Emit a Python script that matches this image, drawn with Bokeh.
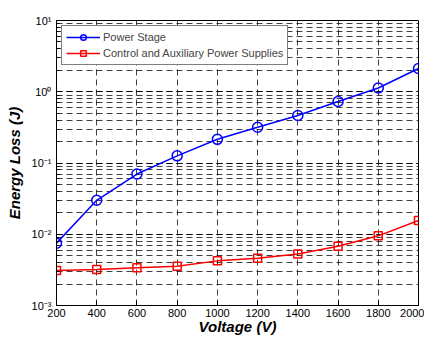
from bokeh.plotting import figure
from bokeh.models import FixedTicker, LogTicker, CustomJSTickFormatter, Legend
from bokeh.embed import file_html
from bokeh.resources import INLINE

voltage = [200, 400, 600, 800, 1000, 1200, 1400, 1600, 1800, 2000]
power_stage = [0.0075, 0.030, 0.070, 0.126, 0.215, 0.318, 0.465, 0.73, 1.13, 2.12]
control_aux = [0.0031, 0.0032, 0.00338, 0.00356, 0.00423, 0.00461, 0.0053, 0.0068, 0.0095, 0.0156]
x_ticks = [200, 400, 600, 800, 1000, 1200, 1400, 1600, 1800, 2000]

p = figure(width=424, height=338, x_range=(200, 2000), y_range=(1e-3, 1e1),
           y_axis_type="log", output_backend="svg", toolbar_location=None,
           min_border_left=56, min_border_top=20, min_border_right=6, min_border_bottom=33)

p.outline_line_color = "black"
p.outline_line_width = 1

p.xaxis.ticker = FixedTicker(ticks=x_ticks)
p.yaxis.ticker = LogTicker(num_minor_ticks=10)
p.yaxis.formatter = CustomJSTickFormatter(code="""
const sup = {'-':'\u207b','0':'\u2070','1':'\u00b9','2':'\u00b2','3':'\u00b3'};
const e = Math.round(Math.log10(tick));
return '10' + String(e).split('').map(c => sup[c]).join('');
""")

for ax in (p.xaxis[0], p.yaxis[0]):
    ax.major_tick_in = 5
    ax.major_tick_out = 0
    ax.minor_tick_in = 3
    ax.minor_tick_out = 0
    ax.axis_line_color = "black"
    ax.major_tick_line_color = "black"
    ax.minor_tick_line_color = "black"
    ax.major_label_text_font = "Liberation Sans"
    ax.major_label_text_font_size = "11px"
    ax.major_label_text_color = "black"
    ax.axis_label_text_font = "Liberation Sans"
    ax.axis_label_text_font_size = "15px"
    ax.axis_label_text_font_style = "bold italic"
    ax.axis_label_text_color = "black"

p.xaxis.major_label_standoff = 3
p.xaxis.axis_label_standoff = -2
p.yaxis.major_label_standoff = 5
p.yaxis.axis_label_standoff = 6

p.xaxis.axis_label = "Voltage (V)"
p.yaxis.axis_label = "Energy Loss (J)"

p.xgrid.grid_line_color = "black"
p.xgrid.grid_line_alpha = 0.75
p.xgrid.grid_line_dash = "6 4"
p.ygrid.grid_line_color = "black"
p.ygrid.grid_line_alpha = 0.75
p.ygrid.grid_line_dash = "6 4"
p.ygrid.minor_grid_line_color = "black"
p.ygrid.minor_grid_line_alpha = 0.75
p.ygrid.minor_grid_line_dash = "6 4"

r1l = p.line(voltage, power_stage, line_color="blue", line_width=1.5)
r1s = p.scatter(voltage, power_stage, marker="circle", size=10, fill_color=None,
                line_color="blue", line_width=1.5)
r2l = p.line(voltage, control_aux, line_color="red", line_width=1.5)
r2s = p.scatter(voltage, control_aux, marker="square", size=8, fill_color=None,
                line_color="red", line_width=1.5)

legend = Legend(items=[("Power Stage", [r1l, r1s]),
                       ("Control and Auxiliary Power Supplies", [r2l, r2s])],
                location="top_left")
legend.label_text_font = "Liberation Sans"
legend.label_text_font_size = "11px"
legend.label_height = 14
legend.glyph_height = 14
legend.glyph_width = 34
legend.label_standoff = 3
legend.spacing = 2
legend.padding = 4
legend.margin = 5
legend.border_line_color = "black"
legend.border_line_width = 1
legend.background_fill_color = "white"
legend.background_fill_alpha = 1
p.add_layout(legend)

open("out.html", "w").write(file_html(p, INLINE))
